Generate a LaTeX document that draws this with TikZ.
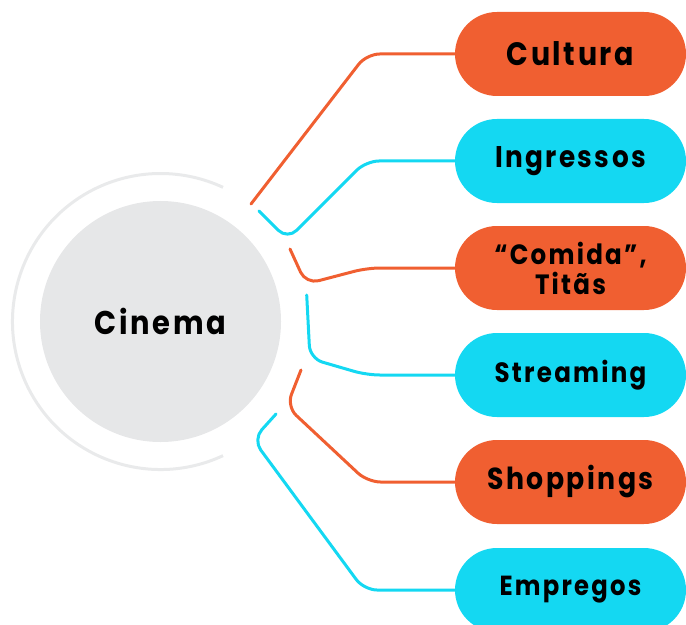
\documentclass[tikz,border=0pt]{standalone}
\usepackage{fontspec}
\setmainfont{Poppins}[BoldFont={* Bold}]
\newfontfamily\labfont{Poppins}[BoldFont={* Bold},LetterSpace=8,FakeStretch=0.88]
\newcommand\lblf[1]{\labfont\bfseries\fontsize{#1}{#1}\selectfont}
\definecolor{orng}{HTML}{F05F31}
\definecolor{cyn}{HTML}{14D8F2}
\definecolor{lgray}{HTML}{E6E7E8}
\definecolor{arcgray}{HTML}{E9EAEB}
\begin{document}
\begin{tikzpicture}[x=1bp,y=-1bp,
  pill/.style={rounded corners=42bp, minimum width=231bp, minimum height=84bp,
    inner sep=0pt, align=center, text=black},
  opill/.style={pill, fill=orng},
  cpill/.style={pill, fill=cyn},
  oline/.style={draw=orng, line width=3bp, line cap=round, line join=round, rounded corners=13bp},
  cline/.style={draw=cyn, line width=3bp, line cap=round, line join=round, rounded corners=13bp}]
\useasboundingbox (0,0) rectangle (686,625);
\clip (0,0) rectangle (686,625);
% centre
\node[circle, fill=lgray, minimum size=241bp, inner sep=0pt,
  font=\lblf{33}] (cin) at (160.5,321.5) {Cinema};
\draw[arcgray, line width=3bp] (cin.center) ++(65:148) arc[start angle=65, end angle=295, radius=148];
% boxes
\node[opill, font=\lblf{32.5}] (cul) at (570.5,54) {Cultura};
\node[cpill, font=\lblf{30}] (ing) at (570.5,161) {Ingressos};
\node[opill, font=\lblf{28}, execute at begin node={\baselineskip=30bp}] (com) at (570.5,268) {“Comida”,\\Titãs};
\node[cpill, font=\lblf{28}] (str) at (570.5,375) {Streaming};
\node[opill, font=\lblf{30.5}] (sho) at (570.5,482) {Shoppings};
\node[cpill, font=\lblf{27.7}] (emp) at (570.5,590) {Empregos};
% free ends and bends
\coordinate (s1) at (251,204);   \coordinate (b1) at (366.6,54);
\coordinate (s2) at (259,211);   \coordinate (a2) at (287.5,239.5); \coordinate (b2) at (366,161);
\coordinate (s3) at (290,249);   \coordinate (a3) at (306,284);     \coordinate (b3) at (367,268);
\coordinate (s4) at (306.7,295); \coordinate (a4) at (310,358.5);   \coordinate (b4) at (366.7,375);
\coordinate (s5) at (301,370);   \coordinate (a5) at (286.7,406.5); \coordinate (b5) at (367.5,482);
\coordinate (s6) at (276,414);   \coordinate (a6) at (253,439.5);   \coordinate (b6) at (364,590);
% connectors
\draw[oline] (s1) -- (b1) -- (cul.west);
\draw[cline] (s2) -- (a2) -- (b2) -- (ing.west);
\draw[oline] (s3) -- (a3) -- (b3) -- (com.west);
\draw[cline] (s4) -- (a4) -- (b4) -- (str.west);
\draw[oline] (s5) -- (a5) -- (b5) -- (sho.west);
\draw[cline] (s6) -- (a6) -- (b6) -- (emp.west);
\end{tikzpicture}
\end{document}
